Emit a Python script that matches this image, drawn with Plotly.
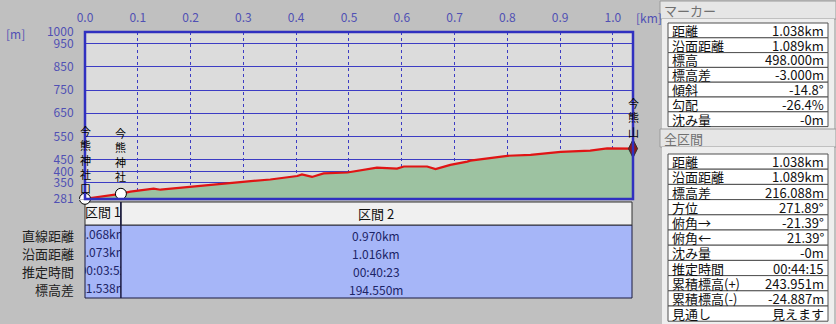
import plotly.graph_objects as go

# ---------------- data ----------------
dist_km = [0.0, 0.067, 0.086, 0.130, 0.143, 0.194, 0.243, 0.294, 0.351, 0.402, 0.411, 0.430,
           0.452, 0.497, 0.553, 0.591, 0.604, 0.648, 0.664, 0.692, 0.724, 0.730, 0.800,
           0.844, 0.901, 0.957, 0.989, 1.033, 1.038]
elev_m = [281.9, 303.4, 313, 326, 321, 333, 344, 354, 365, 380, 387, 376,
          391, 395, 416, 412, 421, 421, 410, 428, 442, 446, 467,
          471, 484, 489, 499, 499, 498]

x_ticks = [0.0, 0.1, 0.2, 0.3, 0.4, 0.5, 0.6, 0.7, 0.8, 0.9, 1.0]
x_ticktext = ["0.0", "0.1", "0.2", "0.3", "0.4", "0.5", "0.6", "0.7", "0.8", "0.9", "1.0"]
y_ticks = [281, 350, 400, 450, 550, 650, 750, 850, 950, 1000]
y_ticktext = ["281", "350", "400", "450", "550", "650", "750", "850", "950", "1000"]

waypoint_km = [0.0, 0.068]
waypoint_elev = [281.9, 303.4]
waypoint_names = ["今熊神社口", "今熊神社"]
summit_km = [1.038]
summit_elev = [498.0]
summit_name = "今熊山"

section_names = ["区間 1", "区間 2"]
section_row_labels = ["直線距離", "沿面距離", "推定時間", "標高差"]
section1_values = ["0.068km", "0.073km", "00:03:52", "21.538m"]
section2_values = ["0.970km", "1.016km", "00:40:23", "194.550m"]

marker_title = "マーカー"
marker_labels = ["距離", "沿面距離", "標高", "標高差", "傾斜", "勾配", "沈み量"]
marker_values = ["1.038km", "1.089km", "498.000m", "-3.000m", "-14.8°", "-26.4%", "-0m"]
total_title = "全区間"
total_labels = ["距離", "沿面距離", "標高差", "方位", "俯角→", "俯角←", "沈み量", "推定時間",
                "累積標高(+)", "累積標高(-)", "見通し"]
total_values = ["1.038km", "1.089km", "216.088m", "271.89°", "-21.39°", "21.39°", "-0m",
                "00:44:15", "243.951m", "-24.887m", "見えます"]

# ---------------- layout helpers ----------------
W, H = 836, 324
def px(x):
    return x / W
def py(y):
    return 1 - y / H

FONT = "Noto Sans CJK JP"
BG = "#c0c0c0"
BLUE = "#3c3cc4"
TICKBLUE = "#5050b4"

PL, PR, PT, PB = 85, 633, 32, 199
XMAX = 1.038
col_split = PL + waypoint_km[1] / XMAX * (PR - PL)

fig = go.Figure()

# profile
fig.add_trace(go.Scatter(x=dist_km, y=elev_m, mode="lines", fill="tozeroy",
                         fillcolor="#9dc2a1", line=dict(color="#e01414", width=2.2),
                         hoverinfo="skip", xaxis="x", yaxis="y"))
# waypoints
fig.add_trace(go.Scatter(x=waypoint_km, y=waypoint_elev, mode="markers",
                         marker=dict(size=11, color="white", line=dict(color="black", width=1)),
                         cliponaxis=False, hoverinfo="skip", xaxis="x", yaxis="y"))
# summit hiker marker
fig.add_trace(go.Scatter(x=summit_km, y=summit_elev, mode="markers",
                         marker=dict(size=13, symbol="diamond-tall", color="#8c1818",
                                     line=dict(color="#303030", width=1)),
                         cliponaxis=False, hoverinfo="skip", xaxis="x", yaxis="y"))

# section column 1 (clipped cell text)
c1x = (PL + col_split) / 2
fig.add_trace(go.Scatter(x=[c1x], y=[213.5], mode="text", text=[section_names[0]],
                         textfont=dict(family=FONT, size=13, color="#101010"),
                         cliponaxis=True, hoverinfo="skip", xaxis="x2", yaxis="y2"))
row_y = [235.5, 253.5, 271.5, 289.5]
fig.add_trace(go.Scatter(x=[c1x] * 4, y=row_y, mode="text", text=section1_values,
                         textfont=dict(family=FONT, size=12, color="#1c2466"),
                         cliponaxis=True, hoverinfo="skip", xaxis="x2", yaxis="y2"))

shapes = []
annotations = []

def ann(x, y, text, size=13, color="#101010", xanchor="center", yanchor="middle"):
    annotations.append(dict(xref="paper", yref="paper", x=px(x), y=py(y), xanchor=xanchor, yanchor=yanchor,
                            text=text, showarrow=False, font=dict(family=FONT, size=size, color=color)))

# table backgrounds (below chart)
shapes.append(dict(type="rect", xref="paper", yref="paper", x0=px(PL), x1=px(632), y0=py(298), y1=py(225),
                   fillcolor="#a6b6f8", line=dict(color="#1a1a40", width=1), layer="below"))
shapes.append(dict(type="rect", xref="paper", yref="paper", x0=px(PL), x1=px(col_split), y0=py(225), y1=py(202),
                   fillcolor="#f0f0f0", line=dict(color="#303030", width=1), layer="below"))
shapes.append(dict(type="rect", xref="paper", yref="paper", x0=px(col_split), x1=px(632), y0=py(225), y1=py(202),
                   fillcolor="#f0f0f0", line=dict(color="#303030", width=1), layer="below"))
shapes.append(dict(type="line", xref="paper", yref="paper", x0=px(col_split), x1=px(col_split), y0=py(298), y1=py(202),
                   line=dict(color="#1a1a40", width=1.5)))

ann((col_split + 632) / 2, 213.5, section_names[1])
for lab, val, yy in zip(section_row_labels, section2_values, row_y):
    ann(76, yy, lab, color="#202020", xanchor="right")
    ann((col_split + 632) / 2, yy, val, size=12, color="#1c2466")

# plot border
shapes.append(dict(type="rect", xref="paper", yref="paper", x0=px(PL), x1=px(PR), y0=py(PB), y1=py(PT),
                   line=dict(color="#3030c0", width=2.5)))

# vertical labels (stacked characters)
def vlabel(name, xc, ytop):
    ann(xc, ytop, "<br>".join(name), size=11, color="black", yanchor="top")
vlabel(waypoint_names[0], PL, 121)
vlabel(waypoint_names[1], col_split, 123)
vlabel(summit_name, PR, 93)

# unit labels
ann(4, 33, "[m]", size=12, color=TICKBLUE, xanchor="left")
ann(634, 17, "[km]", size=12, color=TICKBLUE, xanchor="left")

# right panels
def panel(title, labels, values, htop, tab_top, row_h):
    shapes.append(dict(type="rect", xref="paper", yref="paper", x0=px(660), x1=px(836), y0=py(htop + 18), y1=py(htop),
                       fillcolor="#e6e6e6", line=dict(color="#9a9a9a", width=1), layer="below"))
    ann(662, htop + 9, title, size=13, color="#707070", xanchor="left")
    tab_bot = tab_top + row_h * len(labels)
    shapes.append(dict(type="rect", xref="paper", yref="paper", x0=px(662), x1=px(834), y0=py(tab_bot + 3), y1=py(htop + 18),
                       fillcolor="#eeeeee", line=dict(width=0), layer="below"))
    for i, (lab, val) in enumerate(zip(labels, values)):
        y0 = tab_top + i * row_h
        shapes.append(dict(type="rect", xref="paper", yref="paper", x0=px(668), x1=px(828), y0=py(y0 + row_h), y1=py(y0),
                           fillcolor="white", line=dict(color="#505050", width=1), layer="below"))
        ann(670, y0 + row_h / 2, lab, xanchor="left")
        ann(826, y0 + row_h / 2, val, xanchor="right")

panel(marker_title, marker_labels, marker_values, 1, 23, 14.8)
panel(total_title, total_labels, total_values, 129, 154, 15.2)

fig.update_layout(
    width=W, height=H, margin=dict(l=0, r=0, t=0, b=0, autoexpand=False),
    paper_bgcolor=BG, plot_bgcolor="#dcdcdc", showlegend=False,
    xaxis=dict(domain=[px(PL), px(PR)], range=[0, XMAX], side="top", tickvals=x_ticks, ticktext=x_ticktext,
               showgrid=True, gridcolor=BLUE, gridwidth=1, griddash="dot", zeroline=False,
               ticks="outside", ticklen=4, tickcolor=BG, showline=False, automargin=False,
               tickfont=dict(family=FONT, size=12, color=TICKBLUE), fixedrange=True),
    yaxis=dict(domain=[py(PB), py(PT)], range=[281, 1000], tickvals=y_ticks, ticktext=y_ticktext,
               showgrid=True, gridcolor=BLUE, gridwidth=1.2, zeroline=False,
               ticks="outside", ticklen=8, tickcolor=BG, showline=False, automargin=False,
               tickfont=dict(family=FONT, size=12, color=TICKBLUE), fixedrange=True),
    xaxis2=dict(domain=[px(PL), px(col_split)], range=[PL, col_split], visible=False, anchor="y2", automargin=False),
    yaxis2=dict(domain=[py(298), py(202)], range=[298, 202], visible=False, anchor="x2", automargin=False),
    shapes=shapes, annotations=annotations,
)

fig.write_html("out.html")
